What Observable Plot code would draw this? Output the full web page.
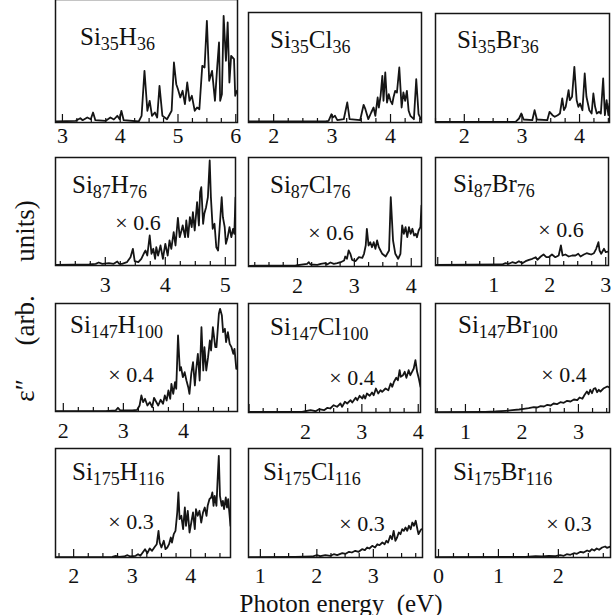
<!DOCTYPE html>
<html><head><meta charset="utf-8">
<script src="https://cdn.jsdelivr.net/npm/d3@7"></script>
<script src="https://cdn.jsdelivr.net/npm/@observablehq/plot@0.6"></script>
<style>
body{margin:0;background:#fff;}
#chart{position:relative;width:612px;height:615px;overflow:hidden;font-family:"Liberation Serif","DejaVu Serif",serif;color:#111;}
#chart svg{position:absolute;overflow:visible;background:transparent;}
.lab{position:absolute;white-space:pre;line-height:1;font-family:"Liberation Serif","DejaVu Serif",serif;color:#111;}
</style></head><body>
<div id="chart"></div>
<script>
// ---- panel names (formula parts: element, subscript, element, subscript)
const names = [
  ["Si","35","H","36"],["Si","35","Cl","36"],["Si","35","Br","36"],
  ["Si","87","H","76"],["Si","87","Cl","76"],["Si","87","Br","76"],
  ["Si","147","H","100"],["Si","147","Cl","100"],["Si","147","Br","100"],
  ["Si","175","H","116"],["Si","175","Cl","116"],["Si","175","Br","116"]
];
const multipliers = [null,null,null,"× 0.6","× 0.6","× 0.6","× 0.4","× 0.4","× 0.4","× 0.3","× 0.3","× 0.3"];
// ---- x domains (eV) and tick labels
const domains = [[2.88,6.03],[1.57,4.53],[1.50,4.52],[2.17,5.17],[1.14,4.18],[-0.04,3.05],[1.87,4.90],[0.99,4.04],[0.47,3.55],[1.69,4.68],[0.79,3.87],[-0.05,2.87]];
const tickLabels = [[3,4,5,6],[2,3,4],[2,3,4],[3,4,5],[2,3,4],[1,2,3],[2,3,4],[2,3,4],[1,2,3],[2,3,4],[1,2,3],[0,1,2]];

// ---- spectra: photon energy (eV) and eps'' (arb. units)
const E_Si35H36 = [2.88,3.23,3.31,3.35,3.43,3.49,3.53,3.57,3.75,3.83,3.89,3.95,3.99,4.02,4.06,4.32,4.37,4.42,4.47,4.51,4.55,4.60,4.64,4.68,4.73,4.81,4.89,4.93,4.97,5.00,5.04,5.08,5.12,5.16,5.20,5.24,5.29,5.33,5.37,5.42,5.46,5.50,5.54,5.59,5.64,5.68,5.71,5.73,5.76,5.79,5.83,5.86,5.89,5.92,5.97,5.99,6.02];
const Y_Si35H36 = [1,1.7,4.3,2.3,5,3.3,10,2.3,1.7,5,3,6.7,3.3,11.7,2.3,1,6.7,51.7,11.7,21.7,6.7,10,5,36.7,6.7,3.3,11.7,60,38.3,33.3,25,31.7,18.3,40,21.7,26.7,11.7,15,13.3,56.7,55,101.7,41.7,51.7,21.7,56.7,80,21.7,28.3,106.7,61.7,100,40,66.7,63.3,26.7,31.7];

const E_Si35Cl36 = [1.58,2.89,2.94,2.99,3.01,3.05,3.09,3.20,3.26,3.30,3.48,3.54,3.57,3.62,3.67,3.71,3.74,3.78,3.80,3.83,3.86,3.88,3.91,3.94,3.97,4.00,4.03,4.05,4.08,4.11,4.15,4.19,4.22,4.25,4.28,4.31,4.34,4.40,4.44,4.48,4.52];
const Y_Si35Cl36 = [1,1,1.7,8.3,5,6.7,2.3,3.3,20,3.3,2.3,17.7,13.3,3.3,10,15,6.7,25,15,26.7,46.7,21.7,50,20,28.3,21.7,18.3,25,31.7,30,55,15,30,21.7,31.7,11.7,6.7,3.3,43.3,8.3,3.3];

const E_Si35Br36 = [1.50,2.89,2.95,2.99,3.03,3.18,3.22,3.26,3.44,3.48,3.53,3.57,3.62,3.66,3.70,3.73,3.76,3.81,3.83,3.87,3.91,3.95,3.98,4.01,4.05,4.09,4.12,4.17,4.21,4.24,4.27,4.30,4.34,4.37,4.41,4.44,4.47,4.50,4.52];
const Y_Si35Br36 = [0.7,0.7,4,9,3,2.3,12.3,3,2.3,10.7,7.3,5.7,7.3,9,24,12.3,15.7,32.3,22.3,25.7,55.7,22.3,15.7,19,12.3,49,25.7,12.3,9,29,15.7,9,10.7,9,44,7.3,22.3,7.3,19];

const E_Si87H76 = [2.17,2.73,2.84,2.89,2.95,3.06,3.14,3.20,3.23,3.28,3.36,3.42,3.46,3.49,3.55,3.60,3.64,3.67,3.70,3.74,3.77,3.80,3.83,3.85,3.88,3.92,3.96,4.00,4.04,4.07,4.10,4.14,4.17,4.21,4.24,4.27,4.29,4.33,4.35,4.38,4.41,4.44,4.46,4.49,4.53,4.56,4.58,4.60,4.63,4.65,4.68,4.71,4.74,4.76,4.79,4.82,4.85,4.88,4.91,4.94,4.96,4.99,5.01,5.04,5.07,5.10,5.13,5.15,5.17];
const Y_Si87H76 = [0.7,1,1.7,3,1.7,2.3,1.7,4,1.7,1.7,3.3,8.3,16.7,4.3,3.3,6.7,11.7,15,10,30,11.7,16.7,6.7,18.3,10,20,6.7,21.7,10,25,16.7,33.3,20,47.7,28.3,35,40,28.3,45,28.3,48.3,38.3,53.3,35,63.3,40,73.3,78.3,41.7,51.7,58.3,68.3,105,68.3,36.7,41.7,18.3,15,41.7,68.3,48.3,38.3,21.7,28.3,38.3,28.3,36.7,31.7,68];

const E_Si87Cl76 = [1.15,1.97,2.17,2.20,2.23,2.35,2.41,2.49,2.52,2.58,2.64,2.70,2.76,2.82,2.84,2.87,2.90,2.93,2.96,3.02,3.08,3.14,3.17,3.20,3.22,3.25,3.28,3.31,3.34,3.37,3.40,3.43,3.46,3.49,3.55,3.61,3.64,3.68,3.72,3.77,3.81,3.84,3.87,3.90,3.93,3.96,3.99,4.02,4.05,4.08,4.10,4.13,4.16,4.18];
const Y_Si87Cl76 = [0.7,1,2.7,4.3,2,1.7,2.7,3.3,2,4,2.7,3.3,4.3,6,10,7.7,16,12.7,6.7,5.3,9.3,8.7,12.7,21,37.7,21,24.3,19.3,24.3,17.7,26,19.3,16,12.7,10,16,69.3,26,12.7,7.7,12.7,41,32.7,39.3,29.3,39.3,32.7,37.7,31,32.7,29.3,36,39.3,61];

const E_Si87Br76 = [-0.04,1.15,1.21,1.27,1.33,1.39,1.45,1.51,1.57,1.63,1.69,1.75,1.78,1.84,1.89,1.94,1.98,2.04,2.10,2.16,2.20,2.23,2.28,2.34,2.40,2.46,2.51,2.55,2.61,2.66,2.70,2.74,2.79,2.83,2.87,2.89,2.92,2.97,3.00,3.05];
const Y_Si87Br76 = [0.7,1,2.3,1.7,3.3,2.3,4.3,2.3,4.3,5.7,6.7,8.3,5.7,9,11,8.3,8.3,11,8.3,10,20,10,11,9,10,10,11.7,9,11,12.3,11.7,11,12.3,16.7,23.3,15,11.7,16.7,13.3,14];

const E_Si147H100 = [1.87,2.70,2.87,2.91,2.95,3.15,3.23,3.27,3.30,3.33,3.36,3.40,3.44,3.48,3.51,3.55,3.58,3.62,3.66,3.69,3.72,3.75,3.78,3.80,3.83,3.86,3.88,3.91,3.94,3.96,3.99,4.02,4.05,4.08,4.10,4.13,4.16,4.19,4.21,4.24,4.27,4.30,4.33,4.35,4.38,4.41,4.44,4.46,4.49,4.53,4.55,4.59,4.61,4.64,4.66,4.69,4.71,4.74,4.77,4.80,4.83,4.85,4.88];
const Y_Si147H100 = [0.3,0.3,1,3.7,1,1,1.7,6,16,9.3,12.7,6,9.3,4.3,13.7,9.3,6,11.7,7.7,16,11,21,12.7,27.7,17.7,29.3,22.7,76,41,44.3,34.3,39.3,31,24.3,17.7,37.7,49.3,26,41,57.7,31,84.3,41,64.3,41,54.3,71,61,84.3,64.3,64.3,97.7,102.7,96,79.3,82.7,69.3,79.3,67.7,64.3,57.7,62.7,42.7];

const E_Si147Cl100 = [0.99,1.94,2.00,2.09,2.18,2.24,2.33,2.39,2.44,2.50,2.56,2.62,2.65,2.70,2.74,2.80,2.83,2.89,2.92,2.96,3.01,3.03,3.06,3.09,3.14,3.18,3.21,3.25,3.29,3.33,3.36,3.42,3.47,3.51,3.54,3.57,3.61,3.64,3.67,3.69,3.73,3.76,3.79,3.83,3.86,3.89,3.92,3.95,3.98,4.01,4.04];
const Y_Si147Cl100 = [0.7,0.7,1.3,2.3,1.3,3.3,2.3,4.7,4,7.3,5.7,9,5.7,10.7,9,12.3,10,14.7,12.3,16.7,14,17.3,14,19,16.7,20,17.3,24,19,22.3,20.7,24,22.3,29,25.7,30.7,34.7,32.3,42.3,35.7,37.3,40.7,34.7,42.3,37.3,40.7,44,52.3,40.7,34,25.7];

const E_Si147Br100 = [0.47,1.35,1.53,1.71,1.83,1.95,2.03,2.12,2.21,2.27,2.33,2.39,2.45,2.51,2.56,2.62,2.68,2.74,2.80,2.86,2.92,2.98,3.02,3.07,3.11,3.15,3.18,3.21,3.24,3.27,3.30,3.33,3.36,3.39,3.45,3.51,3.55];
const Y_Si147Br100 = [0.3,0.7,1,1.7,2.3,3,3.7,4.3,5.3,5,6.3,6,7.7,7,9,8.3,10.3,9.7,11.7,11,13,12.3,15,13.7,17.7,21,18.3,22.7,19.3,23.7,24.3,20.3,22.7,21,24.3,26,25];

const E_Si175H116 = [1.69,2.66,2.72,2.77,2.86,2.92,2.97,3.06,3.10,3.14,3.18,3.22,3.26,3.30,3.34,3.39,3.42,3.45,3.47,3.50,3.54,3.57,3.60,3.63,3.66,3.68,3.71,3.74,3.77,3.79,3.81,3.84,3.87,3.90,3.92,3.95,3.98,4.01,4.04,4.07,4.09,4.12,4.15,4.18,4.21,4.24,4.27,4.29,4.32,4.35,4.37,4.39,4.41,4.44,4.46,4.48,4.50,4.53,4.55,4.57,4.60,4.62,4.64,4.66,4.68];
const Y_Si175H116 = [0.3,0.7,1.7,0.7,1,2.3,1,1.7,3.3,1.7,5,8.3,4.3,9,6.7,11,13.3,26.7,15,10,16.7,8.3,10,13.3,20,15,23.3,26.7,45,65,38.3,41.7,28.3,50,31.7,46.7,25,35,45,28.3,48.3,41.7,46.7,35,45,50,41.7,51.7,58.3,60,65,51.7,61.7,51.7,78.3,101.7,61.7,51.7,56.7,48.3,60,50,58.3,45,31.7];

const E_Si175Cl116 = [0.79,1.62,1.92,2.00,2.06,2.15,2.24,2.30,2.36,2.45,2.51,2.57,2.62,2.68,2.74,2.80,2.85,2.89,2.93,2.98,3.03,3.07,3.11,3.16,3.20,3.23,3.26,3.30,3.33,3.36,3.39,3.42,3.45,3.48,3.51,3.54,3.57,3.60,3.63,3.66,3.69,3.72,3.75,3.78,3.80,3.83,3.85];
const Y_Si175Cl116 = [0.3,0.7,1,2.3,1.3,2.3,1.7,3.3,2.3,4.3,3.7,5.7,5,6.7,5.7,8.3,7.3,10,9,11.7,10,13.3,12.3,15,13.3,16.7,15,21.7,18.3,26.7,16.7,20,25,23.3,28.3,26.7,30,26.7,31.7,28.3,35,31.7,36.7,28.3,23.3,26.7,28.3];

const E_Si175Br116 = [-0.05,1.45,1.62,1.73,1.84,1.95,2.03,2.09,2.14,2.20,2.26,2.31,2.37,2.42,2.48,2.52,2.56,2.60,2.64,2.68,2.73,2.78,2.81,2.87];
const Y_Si175Br116 = [0.3,0.7,1.3,1,1.7,1.3,2.3,1.7,3.3,2.7,4.3,3.7,5.7,5,7,6,8.3,7,9,7.7,10,11,9.7,11];

const seriesE = [E_Si35H36,E_Si35Cl36,E_Si35Br36,E_Si87H76,E_Si87Cl76,E_Si87Br76,E_Si147H100,E_Si147Cl100,E_Si147Br100,E_Si175H116,E_Si175Cl116,E_Si175Br116];
const seriesY = [Y_Si35H36,Y_Si35Cl36,Y_Si35Br36,Y_Si87H76,Y_Si87Cl76,Y_Si87Br76,Y_Si147H100,Y_Si147Cl100,Y_Si147Br100,Y_Si175H116,Y_Si175Cl116,Y_Si175Br116];

// ---- layout (page pixels)
const layout = [
 {l:55,r:237,t:-1,b:122,tx:80,ty:45,pad:5},
 {l:248,r:421,t:12,b:122,tx:270,ty:48,pad:5},
 {l:435,r:609,t:13,b:122,tx:457,ty:48,pad:5},
 {l:55,r:235,t:157,b:265,tx:72,ty:193,mx:138,my:222,pad:11},
 {l:248,r:421,t:157,b:266,tx:270,ty:193,mx:331,my:232,pad:11},
 {l:435,r:608,t:157,b:265,tx:453,ty:192,mx:561,my:229,pad:11},
 {l:55,r:237,t:303,b:411,tx:70,ty:333,mx:131,my:374,pad:11},
 {l:248,r:420,t:303,b:412,tx:270,ty:335,mx:352,my:377,pad:11},
 {l:435,r:609,t:303,b:412,tx:458,ty:333,mx:564,my:374,pad:11},
 {l:55,r:230,t:448,b:557,tx:72,ty:480,mx:131,my:521,pad:10},
 {l:248,r:422,t:448,b:557,tx:263,ty:480,mx:362,my:523,pad:10},
 {l:435,r:610,t:448,b:557,tx:453,ty:480,mx:569,my:523,pad:10}
];

const chart = document.getElementById("chart");
const FONT = "Liberation Serif, DejaVu Serif, serif";

layout.forEach((L, i) => {
  const w = L.r - L.l, h = L.b - L.t;
  const dom = domains[i];
  const data = seriesE[i].map((e, k) => ({e, v: seriesY[i][k]}));
  const quarter = d3.range(Math.ceil(dom[0] * 4), Math.floor(dom[1] * 4) + 1).map(k => k / 4);
  const minors = quarter.filter(t => !Number.isInteger(t));
  const majors = quarter.filter(t => Number.isInteger(t));
  const svg = Plot.plot({
    width: w, height: h + 30,
    marginTop: 0, marginLeft: 0, marginRight: 0, marginBottom: 30,
    x: {domain: dom, axis: null},
    y: {domain: [0, h], axis: null},
    style: {fontFamily: FONT, fontSize: "22px", background: "transparent", color: "#111", overflow: "visible"},
    marks: [
      Plot.line(data, {x: "e", y: "v", stroke: "#151515", strokeWidth: 1.8, clip: true}),
      Plot.axisX(minors, {anchor: "bottom", tickSize: -4, fill: "none", label: null, strokeWidth: 1.2}),
      Plot.axisX(majors, {anchor: "bottom", tickSize: -8, fill: "none", label: null, strokeWidth: 1.2}),
      Plot.axisX(tickLabels[i], {anchor: "bottom", tickSize: 0, tickPadding: L.pad, label: null, fill: "#111", fontSize: 22}),
      Plot.frame({stroke: "#151515", strokeWidth: 1.5})
    ]
  });
  svg.setAttribute("font-family", FONT);
  svg.style.left = L.l + "px";
  svg.style.top = L.t + "px";
  const s = d3.select(svg);
  s.selectAll("text").attr("font-family", FONT);
  const n = names[i];
  const t = s.append("text").attr("x", L.tx - L.l).attr("y", L.ty - L.t)
    .attr("text-anchor", "start")
    .attr("font-family", FONT).attr("font-size", 25).attr("fill", "#111");
  t.append("tspan").text(n[0]);
  t.append("tspan").attr("font-size", 18).attr("dy", 5).text(n[1]);
  t.append("tspan").attr("dy", -5).text(n[2]);
  t.append("tspan").attr("font-size", 18).attr("dy", 5).text(n[3]);
  if (multipliers[i]) {
    s.append("text").attr("x", L.mx - L.l).attr("y", L.my - L.t)
      .attr("text-anchor", "middle").attr("dominant-baseline", "central")
      .attr("font-family", FONT).attr("font-size", 22).attr("fill", "#111")
      .text(multipliers[i]);
  }
  chart.appendChild(svg);
});

const ylab = document.createElement("div");
ylab.className = "lab";
ylab.style.fontSize = "27px";
ylab.style.wordSpacing = "10px";
ylab.style.left = "25px"; ylab.style.top = "301px";
ylab.style.transform = "translate(-50%,-50%) rotate(-90deg)";
ylab.textContent = "ε\u2033  (arb.  units)";
chart.appendChild(ylab);

const xlab = document.createElement("div");
xlab.className = "lab";
xlab.style.fontSize = "25px";
xlab.style.left = "341px"; xlab.style.top = "603px";
xlab.style.transform = "translate(-50%,-50%)";
xlab.textContent = "Photon energy  (eV)";
chart.appendChild(xlab);
</script>
</body></html>
